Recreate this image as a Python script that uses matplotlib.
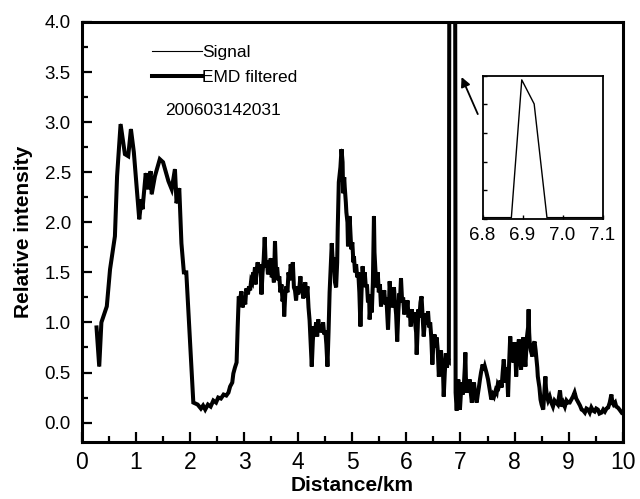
import matplotlib
matplotlib.use("Agg")
import matplotlib.pyplot as plt
from matplotlib.ticker import MultipleLocator, FormatStrFormatter

plt.rcParams['font.family'] = ['Liberation Sans', 'DejaVu Sans']

# ---- data ----
distance_km = [
    0.27, 0.32, 0.36, 0.46, 0.52, 0.61, 0.65, 0.715, 0.795, 0.856,
    0.906, 0.96, 1.04, 1.06, 1.10, 1.12, 1.18, 1.22, 1.27, 1.29,
    1.35, 1.44, 1.50, 1.60, 1.66, 1.72, 1.75, 1.80, 1.84, 1.885,
    1.93, 2.00, 2.06, 2.10, 2.14, 2.20, 2.24, 2.28, 2.33, 2.38,
    2.43, 2.48, 2.52, 2.57, 2.62, 2.67, 2.71, 2.74, 2.78, 2.80,
    2.83, 2.86, 2.88, 2.90, 2.92, 2.95, 2.97, 3.00, 3.02, 3.04,
    3.07, 3.09, 3.11, 3.13, 3.15, 3.17, 3.18, 3.20, 3.21, 3.23,
    3.25, 3.27, 3.29, 3.31, 3.32, 3.34, 3.36, 3.38, 3.40, 3.42,
    3.44, 3.46, 3.48, 3.49, 3.51, 3.53, 3.55, 3.57, 3.59, 3.61,
    3.63, 3.65, 3.67, 3.69, 3.71, 3.73, 3.74, 3.76, 3.78, 3.80,
    3.82, 3.84, 3.86, 3.88, 3.90, 3.92, 3.94, 3.96, 3.98, 4.00,
    4.02, 4.04, 4.06, 4.08, 4.09, 4.11, 4.13, 4.15, 4.17, 4.19,
    4.21, 4.23, 4.25, 4.27, 4.29, 4.31, 4.33, 4.35, 4.37, 4.39,
    4.41, 4.43, 4.46, 4.48, 4.50, 4.52, 4.54, 4.56, 4.58, 4.60,
    4.62, 4.64, 4.66, 4.68, 4.70, 4.72, 4.73, 4.75, 4.78, 4.80,
    4.82, 4.83, 4.85, 4.86, 4.88, 4.89, 4.91, 4.92, 4.94, 4.95,
    4.97, 4.98, 5.00, 5.02, 5.03, 5.05, 5.07, 5.09, 5.11, 5.13,
    5.15, 5.17, 5.19, 5.21, 5.23, 5.25, 5.27, 5.29, 5.31, 5.32,
    5.34, 5.36, 5.38, 5.40, 5.41, 5.43, 5.45, 5.47, 5.49, 5.51,
    5.53, 5.55, 5.57, 5.59, 5.61, 5.63, 5.65, 5.66, 5.68, 5.69,
    5.71, 5.73, 5.75, 5.77, 5.79, 5.81, 5.83, 5.85, 5.87, 5.88,
    5.90, 5.92, 5.94, 5.96, 5.98, 6.00, 6.02, 6.04, 6.06, 6.08,
    6.10, 6.12, 6.14, 6.16, 6.18, 6.19, 6.21, 6.22, 6.24, 6.26,
    6.28, 6.30, 6.32, 6.34, 6.36, 6.38, 6.40, 6.42, 6.44, 6.46,
    6.48, 6.50, 6.52, 6.54, 6.56, 6.58, 6.60, 6.62, 6.64, 6.66,
    6.68, 6.69, 6.71, 6.73, 6.75, 6.77, 6.785, 6.85, 6.91, 6.93,
    6.95, 6.96, 6.98, 6.99, 7.01, 7.02, 7.04, 7.06, 7.08, 7.09,
    7.10, 7.12, 7.14, 7.16, 7.17, 7.19, 7.21, 7.23, 7.25, 7.27,
    7.30, 7.32, 7.34, 7.36, 7.38, 7.41, 7.43, 7.45, 7.48, 7.51,
    7.54, 7.57, 7.60, 7.62, 7.65, 7.67, 7.69, 7.71, 7.74, 7.76,
    7.78, 7.80, 7.82, 7.83, 7.85, 7.86, 7.88, 7.90, 7.92, 7.94,
    7.96, 7.98, 8.00, 8.02, 8.03, 8.05, 8.08, 8.10, 8.12, 8.14,
    8.16, 8.18, 8.20, 8.22, 8.23, 8.25, 8.26, 8.27, 8.28, 8.30,
    8.33, 8.35, 8.37, 8.39, 8.40, 8.42, 8.43, 8.46, 8.48, 8.50,
    8.53, 8.55, 8.57, 8.58, 8.60, 8.62, 8.65, 8.68, 8.71, 8.74,
    8.77, 8.80, 8.84, 8.87, 8.90, 8.93, 8.96, 8.99, 9.02, 9.05,
    9.08, 9.11, 9.14, 9.18, 9.21, 9.24, 9.27, 9.30, 9.33, 9.36,
    9.39, 9.42, 9.45, 9.48, 9.51, 9.54, 9.57, 9.61, 9.64, 9.67,
    9.70, 9.73, 9.76, 9.79, 9.81, 9.83, 9.86, 9.88, 9.91, 9.94,
    9.98,
]
intensity = [
    0.95, 0.56, 1.00, 1.16, 1.53, 1.86, 2.46, 2.98, 2.68, 2.66,
    2.93, 2.70, 2.16, 2.03, 2.23, 2.13, 2.49, 2.33, 2.51, 2.28,
    2.46, 2.63, 2.60, 2.41, 2.33, 2.53, 2.19, 2.34, 1.79, 1.50,
    1.50, 0.80, 0.20, 0.19, 0.18, 0.14, 0.17, 0.13, 0.18, 0.16,
    0.22, 0.20, 0.25, 0.24, 0.28, 0.27, 0.30, 0.36, 0.40, 0.49,
    0.55, 0.60, 0.95, 1.26, 1.22, 1.31, 1.15, 1.25, 1.18, 1.34,
    1.28, 1.36, 1.32, 1.42, 1.40, 1.50, 1.44, 1.55, 1.38, 1.52,
    1.60, 1.50, 1.58, 1.45, 1.28, 1.50, 1.62, 1.85, 1.55, 1.62,
    1.48, 1.55, 1.50, 1.64, 1.45, 1.52, 1.40, 1.81, 1.50, 1.55,
    1.42, 1.46, 1.30, 1.38, 1.21, 1.30, 1.06, 1.28, 1.36, 1.30,
    1.50, 1.42, 1.58, 1.50, 1.60, 1.35, 1.32, 1.22, 1.36, 1.28,
    1.34, 1.46, 1.30, 1.38, 1.24, 1.32, 1.40, 1.25, 1.36, 1.15,
    1.02, 0.80, 0.56, 0.82, 0.96, 0.88, 1.00, 0.86, 1.03, 0.92,
    0.98, 0.90, 1.00, 0.88, 0.92, 0.78, 0.56, 0.90, 1.30, 1.55,
    1.79, 1.58, 1.65, 1.40, 1.35, 1.60, 1.93, 2.40, 2.55, 2.73,
    2.60, 2.29, 2.45, 2.35, 2.20, 2.10, 2.00, 1.76, 2.00, 2.06,
    1.85, 1.73, 1.80, 1.60, 1.66, 1.50, 1.58, 1.45, 1.50, 1.30,
    0.96, 1.30, 1.56, 1.42, 1.50, 1.35, 1.38, 1.20, 1.28, 1.03,
    1.20, 1.10, 1.40, 2.06, 1.70, 1.49, 1.35, 1.50, 1.30, 1.38,
    1.16, 1.30, 1.22, 1.32, 1.18, 1.25, 1.05, 0.93, 1.20, 1.41,
    1.25, 1.32, 1.15, 1.35, 1.20, 1.08, 0.81, 1.10, 1.29, 1.20,
    1.44, 1.22, 1.25, 1.08, 1.20, 1.10, 1.22, 1.05, 1.12, 0.96,
    1.13, 1.02, 1.10, 1.00, 0.90, 0.68, 0.95, 1.13, 1.05, 1.20,
    1.26, 1.05, 0.86, 1.00, 1.09, 0.98, 1.11, 0.95, 1.00, 0.85,
    0.58, 0.80, 0.88, 0.75, 0.85, 0.72, 0.46, 0.65, 0.72, 0.55,
    0.45, 0.26, 0.50, 0.69, 0.55, 0.63, 0.62, 30.0, 0.30, 0.12,
    0.35, 0.43, 0.20, 0.13, 0.30, 0.40, 0.28, 0.35, 0.55, 0.70,
    0.45, 0.30, 0.38, 0.30, 0.43, 0.30, 0.20, 0.32, 0.40, 0.28,
    0.20, 0.28, 0.35, 0.43, 0.50, 0.58, 0.52, 0.56, 0.50, 0.43,
    0.33, 0.23, 0.28, 0.26, 0.32, 0.30, 0.38, 0.36, 0.42, 0.35,
    0.50, 0.63, 0.48, 0.40, 0.55, 0.53, 0.26, 0.60, 0.86, 0.65,
    0.72, 0.60, 0.80, 0.60, 0.46, 0.70, 0.83, 0.65, 0.53, 0.72,
    0.85, 0.70, 0.56, 0.75, 0.86, 0.95, 1.13, 0.90, 0.80, 0.72,
    0.66, 0.78, 0.81, 0.72, 0.66, 0.55, 0.46, 0.35, 0.23, 0.18,
    0.13, 0.30, 0.46, 0.35, 0.26, 0.22, 0.26, 0.20, 0.16, 0.22,
    0.20, 0.18, 0.32, 0.16, 0.20, 0.16, 0.22, 0.20, 0.20, 0.23,
    0.26, 0.30, 0.24, 0.20, 0.17, 0.13, 0.12, 0.10, 0.14, 0.13,
    0.10, 0.15, 0.12, 0.11, 0.14, 0.13, 0.09, 0.10, 0.13, 0.11,
    0.14, 0.15, 0.20, 0.28, 0.20, 0.18, 0.20, 0.16, 0.15, 0.13,
    0.10,
]
emd_filtered = list(intensity)

inset_x = [6.80, 6.872, 6.898, 6.929, 6.961, 7.10]
inset_y = [0.01, 0.01, 0.972, 0.804, 0.01, 0.01]
inset_ticks = [6.8, 6.9, 7.0, 7.1]

# ---- figure ----
fig = plt.figure(figsize=(6.40, 4.99), dpi=100)
ax = fig.add_axes([0.128, 0.115, 0.845, 0.841])

ax.plot(distance_km, emd_filtered, color='black', lw=2.9, label='EMD filtered',
        solid_joinstyle='miter')
ax.plot(distance_km, intensity, color='black', lw=0.8, label='Signal')

ax.set_xlim(0, 10)
ax.set_ylim(-0.19, 4.0)
ax.xaxis.set_major_locator(MultipleLocator(1))
ax.xaxis.set_minor_locator(MultipleLocator(0.5))
ax.yaxis.set_major_locator(MultipleLocator(0.5))
ax.yaxis.set_minor_locator(MultipleLocator(0.25))
ax.tick_params(which='both', direction='in', top=False, right=False, width=1.6)
ax.tick_params(which='major', length=7)
ax.tick_params(which='minor', length=4.5)
ax.tick_params(axis='x', labelsize=16.5, pad=7)
ax.tick_params(axis='y', labelsize=13.5, pad=8)
ax.yaxis.set_major_formatter(FormatStrFormatter('%.1f'))
for s in ax.spines.values():
    s.set_linewidth(2.2)

ax.set_xlabel('Distance/km', fontsize=15, fontweight='bold', labelpad=1)
ax.set_ylabel('Relative intensity', fontsize=15, fontweight='bold', labelpad=8)

h, l = ax.get_legend_handles_labels()
leg = ax.legend([h[1], h[0]], [l[1], l[0]], loc='upper left',
                bbox_to_anchor=(0.129, 0.945), frameon=False, fontsize=12.5,
                handlelength=2.9, handletextpad=0.0, borderpad=0, borderaxespad=0,
                labelspacing=0.55)
ax.text(0.153, 0.788, '200603142031', transform=ax.transAxes, fontsize=12.5,
        va='center', ha='left')

ax.annotate('', xy=(7.02, 3.45), xytext=(7.32, 3.08),
            arrowprops=dict(arrowstyle='-|>', color='black', lw=1.3,
                            mutation_scale=14, shrinkA=0, shrinkB=0))

# ---- inset ----
axin = fig.add_axes([0.754, 0.561, 0.1875, 0.287])
axin.plot(inset_x, inset_y, color='black', lw=1.0)
axin.set_xlim(6.8, 7.1)
axin.set_ylim(0, 1)
axin.set_xticks(inset_ticks)
axin.set_xticklabels(['%.1f' % t for t in inset_ticks])
axin.yaxis.set_major_locator(MultipleLocator(0.2))
axin.set_yticklabels([])
axin.tick_params(which='both', direction='in', length=3, width=1.0,
                 labelsize=13.5, pad=6)
for s in axin.spines.values():
    s.set_linewidth(1.3)

fig.savefig('out.png', dpi=100)
